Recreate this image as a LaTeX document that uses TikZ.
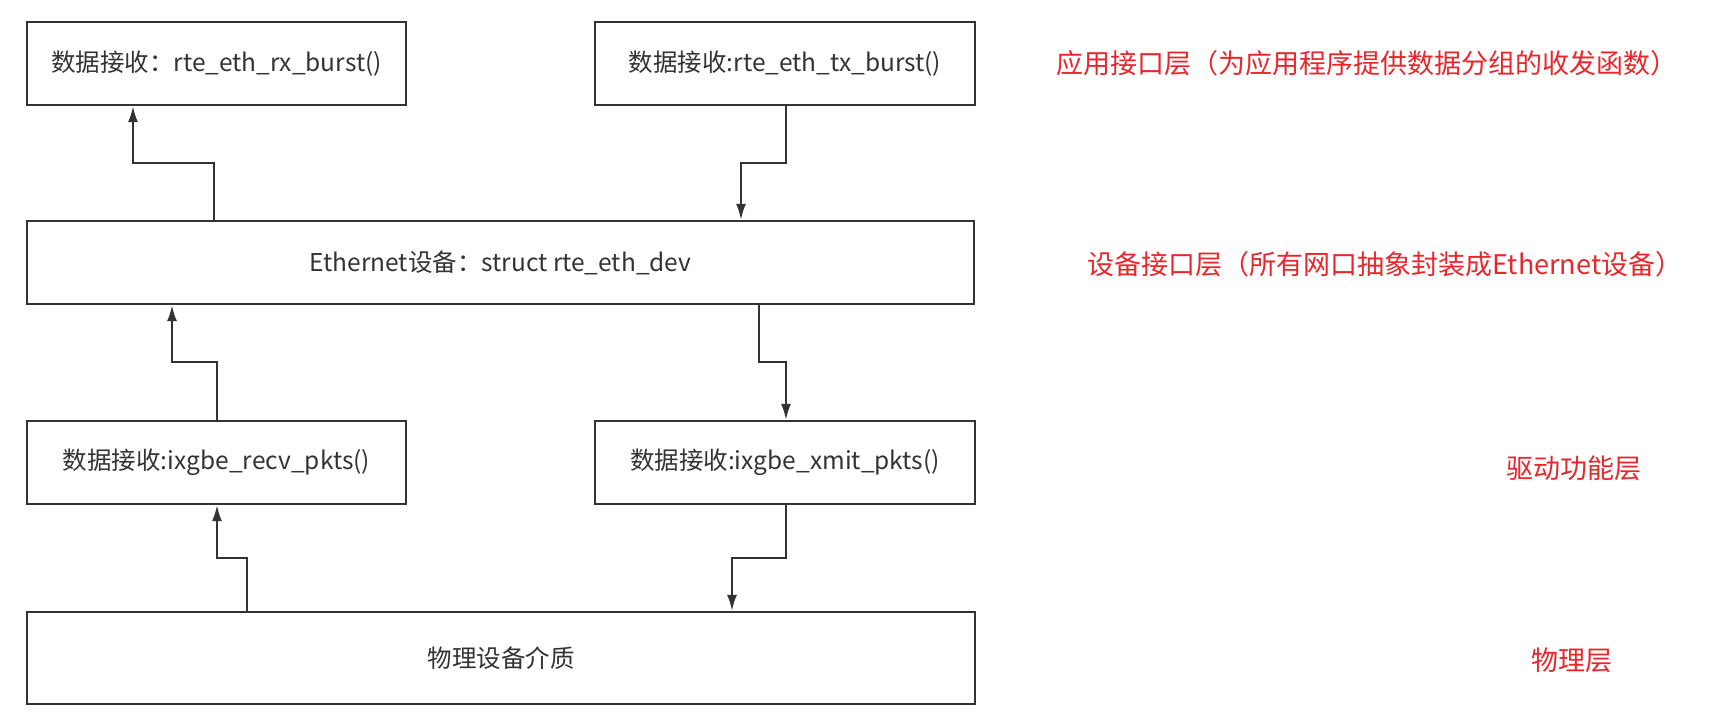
\documentclass[tikz,border=0pt]{standalone}
\usepackage{fontspec}
\setmainfont{Noto Sans CJK SC}
\usetikzlibrary{arrows.meta}
\definecolor{linec}{HTML}{333333}
\definecolor{redc}{HTML}{E8262C}
\tikzset{
  box/.style={draw=linec, line width=2.2pt, minimum height=83pt, inner sep=0pt, font=\fontsize{24.5}{28}\selectfont, text=black!80},
  conn/.style={draw=linec, line width=2.2pt, -{Latex[length=16pt,width=10pt]}},
  layer/.style={text=redc, inner sep=0pt, font=\fontsize{27}{31}\selectfont}
}
\begin{document}
\begin{tikzpicture}[x=1pt,y=-1pt]
\useasboundingbox[fill=white] (0,0) rectangle (1721,728);
% boxes
\node[box, minimum width=379pt] (rx) at (216.5,63.5) {数据接收：rte\_eth\_rx\_burst()};
\node[box, minimum width=380pt] (tx) at (785,63.5) {数据接收:rte\_eth\_tx\_burst()};
\node[box, minimum width=947pt] (eth) at (500.5,262.5) {Ethernet设备：struct rte\_eth\_dev};
\node[box, minimum width=379pt] (recv) at (216.5,462.5) {数据接收:ixgbe\_recv\_pkts()};
\node[box, minimum width=380pt] (xmit) at (785,462.5) {数据接收:ixgbe\_xmit\_pkts()};
\node[box, minimum width=948pt, minimum height=92pt] (phy) at (501,658) {物理设备介质};
% layer labels
\node[layer] (l1) at (1367,63) {应用接口层（为应用程序提供数据分组的收发函数）};
\node[layer] (l2) at (1385,264) {设备接口层（所有网口抽象封装成Ethernet设备）};
\node[layer] (l3) at (1574,468) {驱动功能层};
\node[layer] (l4) at (1572,660) {物理层};
% connector helper coordinates
\coordinate (a1) at (214,163);
\coordinate (a2) at (133,163);
\coordinate (b1) at (786,163);
\coordinate (b2) at (741,163);
\coordinate (c1) at (217,362);
\coordinate (c2) at (172,362);
\coordinate (d1) at (759,362);
\coordinate (d2) at (786,362);
\coordinate (e1) at (247,558);
\coordinate (e2) at (217,558);
\coordinate (f1) at (786,558);
\coordinate (f2) at (732,558);
% connectors
\draw[conn] (eth.north -| a1) -- (a1) -- (a2) -- (rx.south -| a2);
\draw[conn] (tx.south -| b1) -- (b1) -- (b2) -- (eth.north -| b2);
\draw[conn] (recv.north -| c1) -- (c1) -- (c2) -- (eth.south -| c2);
\draw[conn] (eth.south -| d1) -- (d1) -- (d2) -- (xmit.north -| d2);
\draw[conn] (phy.north -| e1) -- (e1) -- (e2) -- (recv.south -| e2);
\draw[conn] (xmit.south -| f1) -- (f1) -- (f2) -- (phy.north -| f2);
\end{tikzpicture}
\end{document}
